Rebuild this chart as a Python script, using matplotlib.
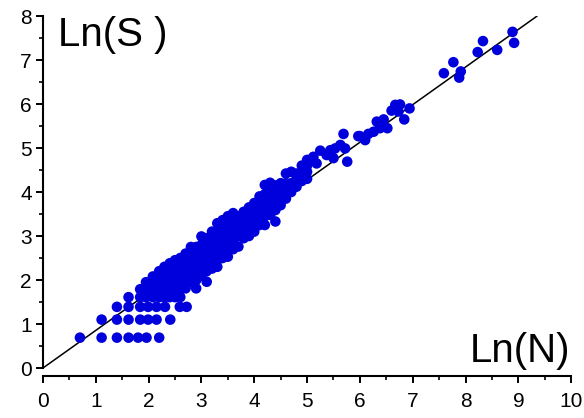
import matplotlib
matplotlib.use('Agg')
import matplotlib.pyplot as plt
from matplotlib.ticker import MultipleLocator

plt.rcParams['font.family'] = ['Liberation Sans', 'DejaVu Sans']

# discrete rows at small N, S (ln of small integers)
row_x = [0.70, 1.11, 1.40, 1.62, 1.80, 1.96, 2.20,
         1.11, 1.40, 1.62, 1.84, 1.99, 2.15, 2.41,
         1.40, 1.62, 1.84, 1.99, 2.15, 2.31, 2.59, 2.72,
         1.62]
row_y = [0.69, 0.69, 0.69, 0.69, 0.69, 0.69, 0.69,
         1.10, 1.10, 1.10, 1.10, 1.10, 1.10, 1.10,
         1.39, 1.39, 1.39, 1.39, 1.39, 1.39, 1.39, 1.39,
         1.61]

# dense cloud, read column by column
cloud = {
    1.84: [1.61, 1.79],
    1.95: [1.61, 1.79, 1.95],
    2.08: [1.61, 1.79, 1.95, 2.08],
    2.20: [1.61, 1.79, 1.95, 2.08, 2.20],
    2.30: [1.61, 1.72, 1.87, 2.00, 2.15, 2.30],
    2.40: [1.61, 1.79, 1.95, 2.10, 2.25, 2.38],
    2.50: [1.61, 1.79, 1.95, 2.10, 2.30, 2.45],
    2.60: [1.61, 1.80, 1.98, 2.15, 2.30, 2.50],
    2.70: [1.81, 1.95, 2.10, 2.30, 2.45, 2.60],
    2.80: [1.95, 2.10, 2.25, 2.40, 2.60, 2.75],
    2.90: [1.81, 2.00, 2.20, 2.35, 2.55, 2.75],
    3.00: [2.10, 2.30, 2.45, 2.65, 2.80, 2.99],
    3.10: [1.96, 2.20, 2.40, 2.60, 2.75, 2.95],
    3.20: [2.26, 2.45, 2.60, 2.80, 3.00, 3.10],
    3.30: [2.30, 2.45, 2.60, 2.75, 2.90, 3.10, 3.29],
    3.40: [2.50, 2.65, 2.85, 3.00, 3.20, 3.36],
    3.50: [2.53, 2.75, 2.95, 3.10, 3.30, 3.45],
    3.60: [2.70, 2.90, 3.05, 3.20, 3.40, 3.52],
    3.70: [2.76, 3.00, 3.15, 3.30, 3.45],
    3.80: [2.95, 3.10, 3.25, 3.40, 3.55],
    3.90: [3.00, 3.15, 3.33, 3.50, 3.65],
    4.00: [3.10, 3.30, 3.45, 3.60, 3.75],
    4.10: [3.25, 3.40, 3.55, 3.70, 3.90],
    4.20: [3.25, 3.45, 3.60, 3.75, 3.95, 4.16],
    4.30: [3.48, 3.60, 3.80, 4.00, 4.21],
    4.40: [3.33, 3.59, 3.75, 3.95, 4.15],
    4.50: [3.70, 3.90, 4.08, 4.20],
    4.60: [3.85, 4.05, 4.20, 4.42],
    4.70: [4.00, 4.20, 4.46],
    4.80: [4.12, 4.30, 4.42],
    4.90: [4.25, 4.45, 4.60],
    5.00: [4.30, 4.46, 4.60, 4.73],
}

# sparse points at large N
upper_x = [5.06, 5.12, 5.18, 5.25, 5.37, 5.44, 5.50, 5.53, 5.63, 5.69,
           5.72, 5.76, 6.00, 6.10, 6.16, 6.26, 6.32, 6.38, 6.45, 6.52,
           6.60, 6.67, 6.73, 6.76, 6.84, 6.94, 5.97,
           7.59, 7.77, 7.91, 7.88, 8.23, 8.33, 8.60, 8.89, 8.92]
upper_y = [4.73, 4.80, 4.65, 4.94, 4.84, 4.95, 4.77, 4.99, 5.07, 5.32,
           4.99, 4.69, 5.27, 5.18, 5.32, 5.37, 5.60, 5.45, 5.65, 5.45,
           5.85, 5.98, 5.83, 5.99, 5.65, 5.90, 5.27,
           6.70, 6.95, 6.74, 6.60, 7.18, 7.43, 7.23, 7.64, 7.39]

fit_x = [0, 9.35]
fit_slope = 0.855

xs = list(row_x)
ys = list(row_y)
for cx, col in cloud.items():
    for cy in col:
        xs.append(cx)
        ys.append(cy)
xs += upper_x
ys += upper_y

fig = plt.figure(figsize=(5.84, 4.18), dpi=100)
ax = fig.add_axes([0.0736, 0.1196, 0.9044, 0.8421])

ax.plot(fit_x, [v * fit_slope for v in fit_x], color='black', lw=1.1, zorder=1)
ax.scatter(xs, ys, s=58, color='#0000dc', edgecolors='none', zorder=2)

ax.set_xlim(0, 10)
ax.set_ylim(0, 8)
ax.spines['top'].set_visible(False)
ax.spines['right'].set_visible(False)
ax.spines['bottom'].set_position(('outward', 6))
for s in ['left', 'bottom']:
    ax.spines[s].set_linewidth(1.5)

ax.xaxis.set_major_locator(MultipleLocator(1))
ax.xaxis.set_minor_locator(MultipleLocator(0.5))
ax.yaxis.set_major_locator(MultipleLocator(1))
ax.yaxis.set_minor_locator(MultipleLocator(0.5))
ax.tick_params(which='major', length=5, width=1.4, labelsize=15, pad=3)
ax.tick_params(which='minor', length=3, width=1.2)
ax.tick_params(axis='x', which='major', pad=6)

ax.text(0.028, 1.0, 'Ln(S )', transform=ax.transAxes, fontsize=29,
        ha='left', va='top')
ax.text(0.998, -0.005, 'Ln(N)', transform=ax.transAxes, fontsize=29,
        ha='right', va='bottom')

fig.savefig('out.png', dpi=100)
